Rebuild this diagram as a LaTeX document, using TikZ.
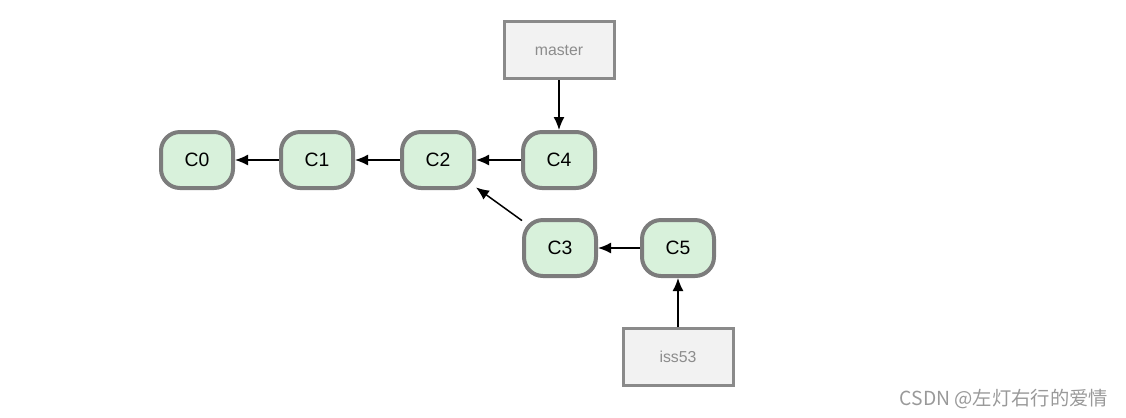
\documentclass[tikz,border=0pt]{standalone}
\usepackage{fontspec}
\setmainfont{Liberation Sans}
\newfontfamily\cjk{Noto Sans CJK SC}
\usetikzlibrary{arrows.meta}
\definecolor{commitfill}{HTML}{D8F1DB}
\definecolor{commitline}{HTML}{7C7C7C}
\definecolor{branchfill}{HTML}{F2F2F2}
\definecolor{branchline}{HTML}{8A8A8A}
\definecolor{branchtext}{HTML}{8C8C8C}
\begin{document}
\begin{tikzpicture}[x=0.2mm,y=-0.2mm,
    commit/.style={draw=commitline,fill=commitfill,line width=0.8mm,rounded corners=3.8mm,
        minimum width=14.4mm,minimum height=11.2mm,font=\fontsize{11}{13}\selectfont},
    branch/.style={draw=branchline,fill=branchfill,line width=0.6mm,
        minimum width=22mm,minimum height=11.4mm,text=branchtext,font=\fontsize{9}{11}\selectfont},
    >={Latex[length=2.6mm,width=2.2mm]}]
        \useasboundingbox (0,0) rectangle (1126,417);
        \node[commit] (c0) at (197,160) {C0};
        \node[commit] (c1) at (317,160) {C1};
        \node[commit] (c2) at (438,160) {C2};
        \node[commit] (c4) at (559,160) {C4};
        \node[commit] (c3) at (560,248) {C3};
        \node[commit] (c5) at (678,248) {C5};
        \node[branch] (master) at (559,50) {master};
        \node[branch] (iss) at (678,357) {iss53};
        \draw[->,line width=0.3mm] (master) -- (c4);
        \draw[->,line width=0.3mm] (c4) -- (c2);
        \draw[->,line width=0.3mm] (c2) -- (c1);
        \draw[->,line width=0.3mm] (c1) -- (c0);
        \draw[->,line width=0.3mm] (c3) -- (c2);
        \draw[->,line width=0.3mm] (c5) -- (c3);
        \draw[->,line width=0.3mm] (iss) -- (c5);
        \node[text=gray!80,font=\cjk\fontsize{11}{13}\selectfont] (mark) at (1004,399) {CSDN @左灯右行的爱情};
    \end{tikzpicture}
\end{document}
